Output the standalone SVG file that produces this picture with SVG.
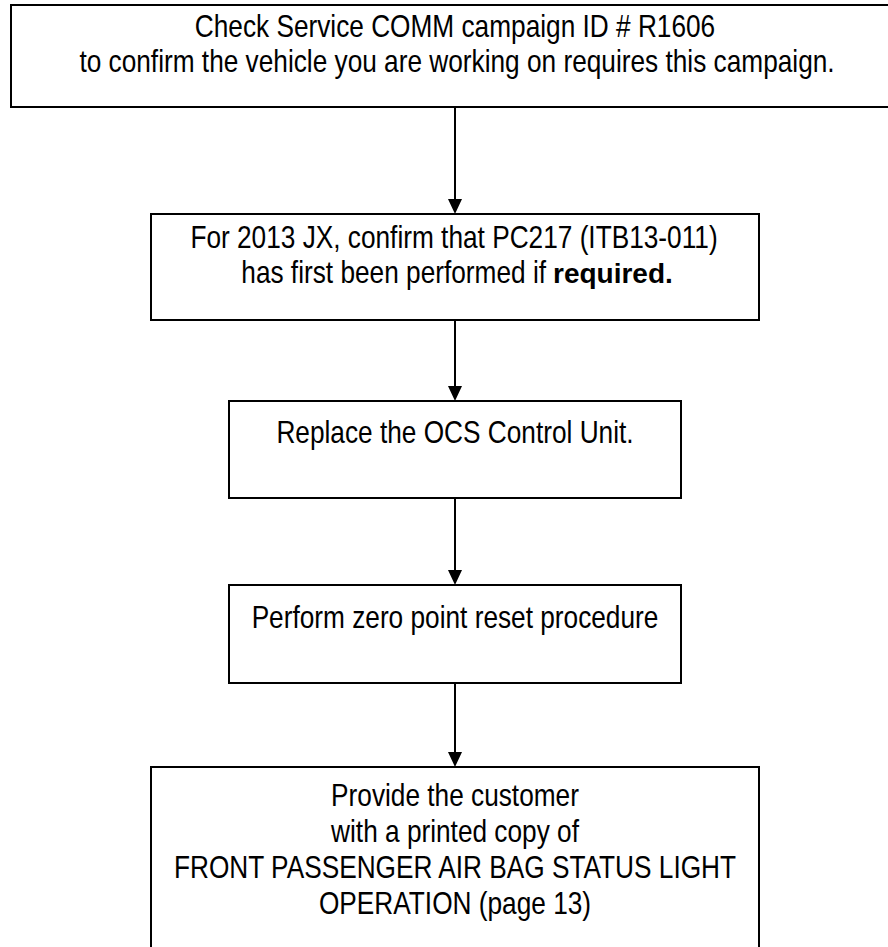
<svg xmlns="http://www.w3.org/2000/svg" width="888" height="947" viewBox="0 0 888 947">
<defs>
<style>
.box{fill:#fff;stroke:#000;stroke-width:2}
.t{font-family:"Liberation Sans",Arial,sans-serif;font-size:32px;fill:#000;text-anchor:middle}
.e{text-anchor:end}
.b{font-family:"Liberation Sans",Arial,sans-serif;font-size:28px;font-weight:bold;fill:#000;text-anchor:start}
.c{stroke:#000;stroke-width:2;fill:none}
.ah{fill:#000}
</style>
</defs>
<rect width="888" height="947" fill="#fff"/>
<g id="connectors">
<line class="c" x1="455" y1="107" x2="455" y2="200"/>
<path class="ah" d="M448,199 L462,199 L455,214 Z"/>
<line class="c" x1="455" y1="320" x2="455" y2="387"/>
<path class="ah" d="M448,386 L462,386 L455,401 Z"/>
<line class="c" x1="455" y1="498" x2="455" y2="571"/>
<path class="ah" d="M448,570 L462,570 L455,585 Z"/>
<line class="c" x1="455" y1="683" x2="455" y2="753"/>
<path class="ah" d="M448,752 L462,752 L455,767 Z"/>
</g>
<g id="n1">
<rect class="box" x="11" y="5" width="888" height="102"/>
<text class="t" transform="translate(455,37) scale(0.82,1)">Check Service COMM campaign ID # R1606</text>
<text class="t" transform="translate(457,72) scale(0.82,1)">to confirm the vehicle you are working on requires this campaign.</text>
</g>
<g id="n2">
<rect class="box" x="151" y="214" width="608" height="106"/>
<text class="t" transform="translate(454,248) scale(0.82,1)">For 2013 JX, confirm that PC217 (ITB13-011)</text>
<text class="t e" transform="translate(546,283) scale(0.82,1)">has first been performed if</text>
<text class="b" x="553" y="283">required.</text>
</g>
<g id="n3">
<rect class="box" x="229" y="401" width="452" height="97"/>
<text class="t" transform="translate(455,443) scale(0.82,1)">Replace the OCS Control Unit.</text>
</g>
<g id="n4">
<rect class="box" x="229" y="585" width="452" height="98"/>
<text class="t" transform="translate(455,628) scale(0.82,1)">Perform zero point reset procedure</text>
</g>
<g id="n5">
<rect class="box" x="151" y="767" width="608" height="200"/>
<text class="t" transform="translate(455,806) scale(0.82,1)">Provide the customer</text>
<text class="t" transform="translate(455,842) scale(0.82,1)">with a printed copy of</text>
<text class="t" transform="translate(455,878) scale(0.82,1)">FRONT PASSENGER AIR BAG STATUS LIGHT</text>
<text class="t" transform="translate(455,914) scale(0.82,1)">OPERATION (page 13)</text>
</g>
</svg>
